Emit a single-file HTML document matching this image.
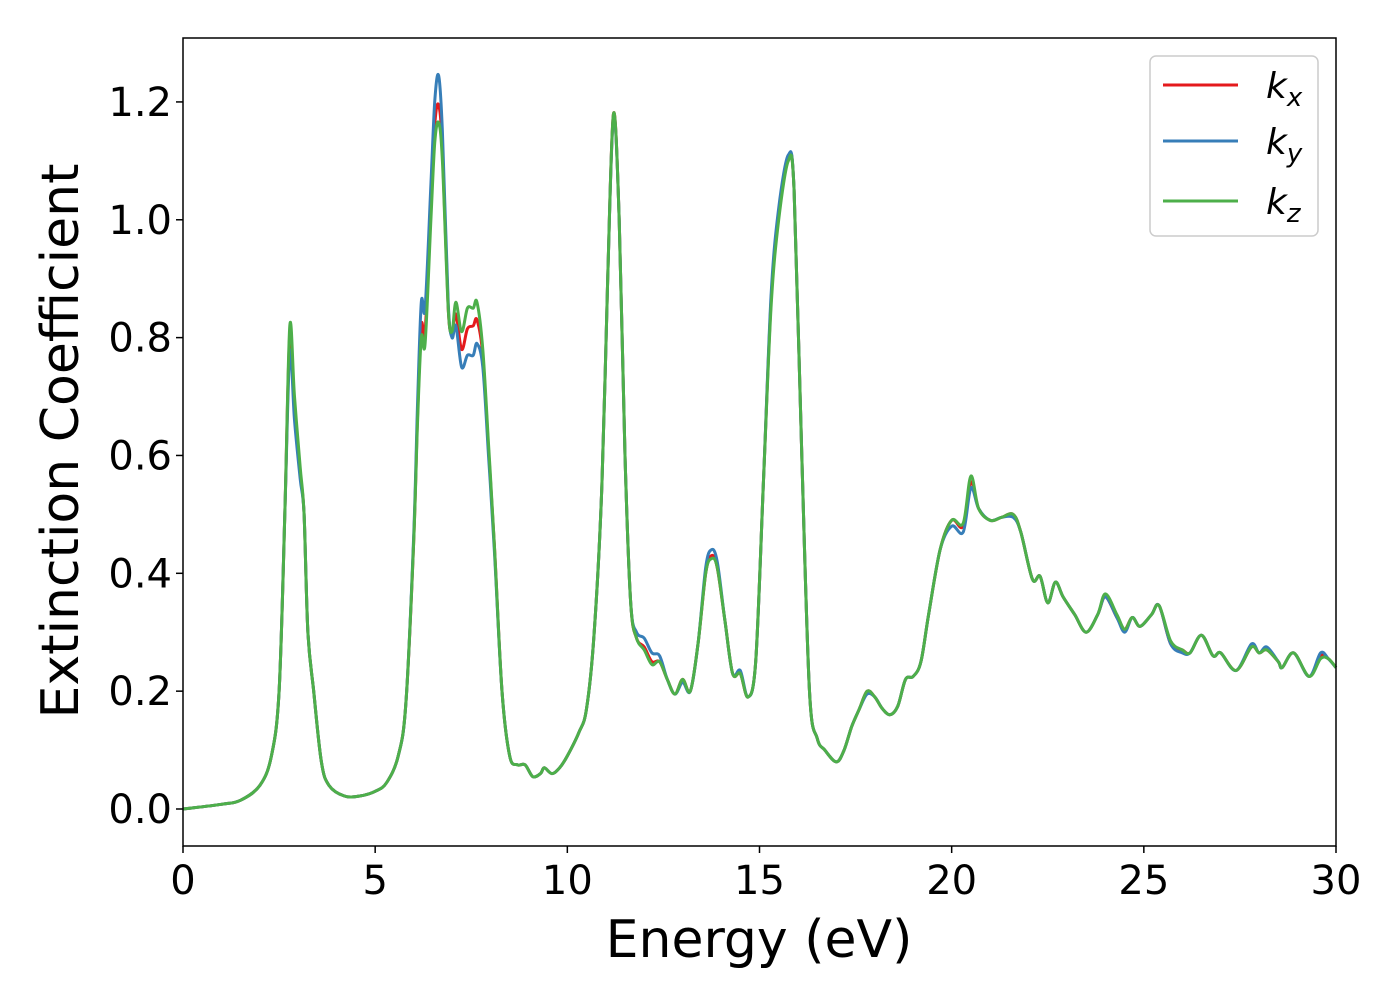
<!DOCTYPE html>
<html><head><meta charset="utf-8"><style>
body{margin:0;background:#fff;}
svg text{font-family:"DejaVu Sans","Liberation Sans",sans-serif;}
</style></head><body>
<svg id="chart" width="1400" height="1000" xmlns="http://www.w3.org/2000/svg">
<rect width="1400" height="1000" fill="#fff"/>
<g id="series"></g>
<rect x="183" y="38" width="1153" height="808" fill="none" stroke="#000" stroke-width="1.5"/>
<g id="xticks"></g>
<g id="yticks"></g>
<text x="759" y="957" font-size="52" text-anchor="middle">Energy (eV)</text>
<text transform="translate(78,441) rotate(-90)" font-size="52" text-anchor="middle">Extinction Coefficient</text>
<g>
<rect x="1150" y="56" width="168" height="180" rx="6" fill="#fff" stroke="#ccc" stroke-width="1.5"/>
<g><line x1="1163" y1="85" x2="1238" y2="85" stroke="#e41a1c" stroke-width="3"/><text x="1266" y="98" font-size="36" font-style="italic">k<tspan font-size="26" dy="8">x</tspan></text></g>
<g><line x1="1163" y1="141" x2="1238" y2="141" stroke="#377eb8" stroke-width="3"/><text x="1266" y="154" font-size="36" font-style="italic">k<tspan font-size="26" dy="8">y</tspan></text></g>
<g><line x1="1163" y1="201" x2="1238" y2="201" stroke="#4daf4a" stroke-width="3"/><text x="1266" y="214" font-size="36" font-style="italic">k<tspan font-size="26" dy="8">z</tspan></text></g>
</g>
</svg>
<script>
const energy=[0,1.0,1.5,2.0,2.3,2.5,2.65,2.78,2.9,3.05,3.15,3.25,3.4,3.6,3.8,4.2,4.6,5.0,5.3,5.6,5.8,6.0,6.1,6.2,6.3,6.45,6.55,6.65,6.75,6.9,7.0,7.1,7.25,7.4,7.55,7.65,7.8,7.95,8.1,8.3,8.5,8.7,8.9,9.1,9.3,9.4,9.6,9.8,10.0,10.3,10.5,10.7,10.9,11.05,11.2,11.35,11.5,11.65,11.8,12.0,12.2,12.4,12.6,12.8,13.0,13.2,13.4,13.6,13.75,13.9,14.1,14.3,14.5,14.7,14.9,15.1,15.3,15.5,15.75,15.9,16.1,16.3,16.5,16.7,17.0,17.2,17.4,17.6,17.8,18.0,18.2,18.4,18.6,18.8,19.0,19.2,19.4,19.7,20.0,20.3,20.5,20.7,21.0,21.3,21.6,21.8,22.1,22.3,22.5,22.7,22.9,23.2,23.5,23.8,24.0,24.3,24.5,24.7,24.9,25.2,25.4,25.7,26.0,26.2,26.5,26.8,27.0,27.4,27.8,28.0,28.2,28.5,28.6,28.9,29.3,29.6,29.8,30.0];
const kz=[0,0.008,0.015,0.04,0.09,0.2,0.5,0.82,0.7,0.58,0.5,0.3,0.2,0.08,0.04,0.022,0.022,0.03,0.045,0.09,0.18,0.45,0.65,0.8,0.79,1.0,1.13,1.165,1.1,0.85,0.81,0.86,0.81,0.85,0.85,0.86,0.78,0.62,0.45,0.2,0.09,0.075,0.075,0.055,0.06,0.07,0.06,0.07,0.09,0.13,0.17,0.3,0.55,0.9,1.18,1.0,0.6,0.35,0.29,0.27,0.245,0.25,0.22,0.195,0.22,0.2,0.28,0.4,0.425,0.41,0.32,0.23,0.23,0.19,0.25,0.55,0.85,1.0,1.1,1.05,0.6,0.2,0.12,0.1,0.08,0.1,0.14,0.17,0.2,0.19,0.17,0.16,0.175,0.22,0.225,0.25,0.33,0.44,0.49,0.485,0.565,0.51,0.49,0.495,0.5,0.47,0.39,0.395,0.35,0.385,0.36,0.33,0.3,0.33,0.365,0.33,0.305,0.325,0.31,0.33,0.345,0.285,0.27,0.265,0.295,0.26,0.265,0.235,0.275,0.265,0.27,0.25,0.24,0.265,0.225,0.255,0.255,0.24];
const kx=[0,0.008,0.015,0.04,0.09,0.2,0.5,0.805,0.68,0.57,0.5,0.3,0.2,0.08,0.04,0.022,0.022,0.03,0.045,0.09,0.18,0.45,0.66,0.82,0.81,1.02,1.16,1.195,1.12,0.85,0.81,0.84,0.78,0.815,0.82,0.83,0.77,0.61,0.45,0.2,0.09,0.075,0.075,0.055,0.06,0.07,0.06,0.07,0.09,0.13,0.17,0.3,0.55,0.9,1.18,1.0,0.6,0.35,0.29,0.275,0.25,0.25,0.22,0.195,0.22,0.2,0.28,0.4,0.43,0.41,0.32,0.23,0.23,0.19,0.25,0.55,0.86,1.01,1.105,1.05,0.6,0.2,0.12,0.1,0.08,0.1,0.14,0.17,0.2,0.19,0.17,0.16,0.175,0.22,0.225,0.25,0.33,0.44,0.49,0.48,0.555,0.51,0.49,0.495,0.5,0.47,0.39,0.395,0.35,0.385,0.36,0.33,0.3,0.33,0.36,0.325,0.305,0.325,0.31,0.33,0.345,0.28,0.27,0.265,0.295,0.26,0.265,0.235,0.275,0.265,0.27,0.25,0.24,0.265,0.225,0.26,0.255,0.24];
const ky=[0,0.008,0.015,0.04,0.09,0.2,0.5,0.775,0.66,0.56,0.5,0.3,0.2,0.08,0.04,0.022,0.022,0.03,0.045,0.09,0.18,0.46,0.68,0.86,0.85,1.06,1.2,1.245,1.15,0.86,0.8,0.82,0.75,0.77,0.77,0.79,0.75,0.6,0.44,0.2,0.09,0.075,0.075,0.055,0.06,0.07,0.06,0.07,0.09,0.13,0.17,0.3,0.55,0.9,1.175,1.0,0.6,0.35,0.3,0.29,0.265,0.26,0.22,0.195,0.215,0.2,0.28,0.41,0.44,0.42,0.32,0.23,0.235,0.19,0.25,0.55,0.87,1.02,1.11,1.05,0.6,0.2,0.12,0.1,0.08,0.1,0.14,0.17,0.195,0.19,0.17,0.16,0.175,0.22,0.225,0.25,0.33,0.44,0.48,0.47,0.545,0.51,0.49,0.495,0.495,0.47,0.39,0.395,0.35,0.385,0.36,0.33,0.3,0.33,0.36,0.325,0.3,0.325,0.31,0.33,0.345,0.28,0.265,0.265,0.295,0.26,0.265,0.235,0.28,0.265,0.275,0.25,0.24,0.265,0.225,0.265,0.255,0.24];
const xTickLabels=["0","5","10","15","20","25","30"];
const yTickLabels=["0.0","0.2","0.4","0.6","0.8","1.0","1.2"];
const NS="http://www.w3.org/2000/svg";
const X0=183,X1=1336,Y0=38,Y1=846,xmin=0,xmax=30,ymin=-0.0628,ymax=1.3085;
function sx(v){return X0+(v-xmin)/(xmax-xmin)*(X1-X0);}
function sy(v){return Y1-(v-ymin)/(ymax-ymin)*(Y1-Y0);}
function smoothPath(xs,ys){
  const p=xs.map((x,i)=>[sx(x),sy(ys[i])]);
  let d="M"+p[0][0].toFixed(1)+","+p[0][1].toFixed(1);
  for(let i=0;i<p.length-1;i++){
    const a=p[Math.max(0,i-1)],b=p[i],c=p[i+1],e=p[Math.min(p.length-1,i+2)];
    const c1=[b[0]+(c[0]-a[0])/6,b[1]+(c[1]-a[1])/6],c2=[c[0]-(e[0]-b[0])/6,c[1]-(e[1]-b[1])/6];
    d+="C"+c1[0].toFixed(1)+","+c1[1].toFixed(1)+" "+c2[0].toFixed(1)+","+c2[1].toFixed(1)+" "+c[0].toFixed(1)+","+c[1].toFixed(1);
  }
  return d;
}
const g=document.getElementById("series");
[[kx,"#e41a1c","series-kx"],[ky,"#377eb8","series-ky"],[kz,"#4daf4a","series-kz"]].forEach(s=>{
  const path=document.createElementNS(NS,"path");
  path.setAttribute("d",smoothPath(energy,s[0]));
  path.setAttribute("fill","none");path.setAttribute("stroke",s[1]);path.setAttribute("stroke-width","3");
  path.setAttribute("stroke-linejoin","round");
  
  
  g.appendChild(path);
});
const xt=document.getElementById("xticks");
xTickLabels.forEach(l=>{
  const x=sx(parseFloat(l));
  const ln=document.createElementNS(NS,"line");
  ln.setAttribute("x1",x);ln.setAttribute("x2",x);ln.setAttribute("y1",Y1);ln.setAttribute("y2",Y1+7);ln.setAttribute("stroke","#000");ln.setAttribute("stroke-width","1.5");
  
  
  xt.appendChild(ln);
  const t=document.createElementNS(NS,"text");
  t.setAttribute("x",x);t.setAttribute("y",894);t.setAttribute("font-size","40");t.setAttribute("text-anchor","middle");t.textContent=l;
  
  
  xt.appendChild(t);
});
const yt=document.getElementById("yticks");
yTickLabels.forEach(l=>{
  const y=sy(parseFloat(l));
  const ln=document.createElementNS(NS,"line");
  ln.setAttribute("x1",X0-7);ln.setAttribute("x2",X0);ln.setAttribute("y1",y);ln.setAttribute("y2",y);ln.setAttribute("stroke","#000");ln.setAttribute("stroke-width","1.5");
  
  
  yt.appendChild(ln);
  const t=document.createElementNS(NS,"text");
  t.setAttribute("x",172);t.setAttribute("y",y+14);t.setAttribute("font-size","40");t.setAttribute("text-anchor","end");t.textContent=l;
  
  
  yt.appendChild(t);
});
</script>
</body></html>
